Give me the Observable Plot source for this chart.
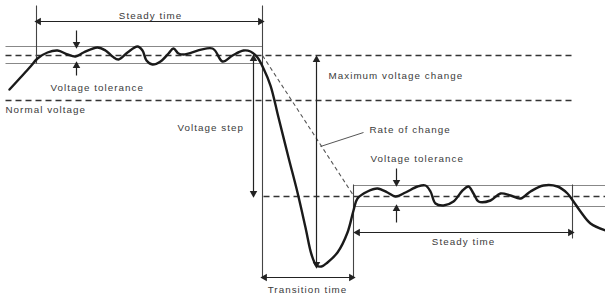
<!DOCTYPE html>
<html>
<head>
<meta charset="utf-8">
<script src="https://cdn.jsdelivr.net/npm/d3@7"></script>
<script src="https://cdn.jsdelivr.net/npm/@observablehq/plot@0.6"></script>
<style>
html,body{margin:0;padding:0;background:#fff;}
#chart svg{display:block;}
#chart svg text{letter-spacing:1.05px;}
</style>
</head>
<body>
<div id="chart"></div>
<script>
// Waveform (time, voltage) in diagram units
const waveT = [9,20,30,37,47,57,67,75,83,97,105,112,118,127,137,142,146,152,160,168,173,178,183,212,222,232,243,250,257,263,270,278,288,297,305,311,316,321,327,337,347,353,357,367,377,387,395,405,417,425,430,435,443,453,462,468,473,478,490,500,510,520,530,543,557,567,573,580,590,605];
const waveV = [89,77,66,58,52,50,54,56,52,47,50,56,59,52,46,50,60,64,61,53,48,53,54,48,61,55,50,51,57,68,85,117,157,192,227,254,265,266,262,252,232,210,198,191,188,192,196,192,186,185,191,203,205,201,190,186,193,201,200,193,195,198,191,185,186,193,201,211,223,230];

// Horizontal reference levels
const levelNames = ["initial", "normal", "final"];
const levelV = [55, 100, 196];
const levelT1 = [5, 5, 263];
const levelT2 = [572, 572, 605];

// Tolerance bands (top, bottom, start, end)
const bandTop = [46, 185];
const bandBottom = [63, 206];
const bandStart = [5, 353];
const bandEnd = [262, 605];

// Time markers (vertical lines)
const markT = [36, 262, 353, 572];
const markV1 = [5, 5, 184, 184];
const markV2 = [63, 277, 277, 238];

// Double-headed dimension arrows
const dimNames = ["Steady time", "Steady time 2", "Transition time", "Voltage step", "Maximum voltage change"];
const dimX1 = [36, 355, 262, 253, 316];
const dimY1 = [21, 232, 277, 56, 57];
const dimX2 = [262, 572, 353, 253, 316];
const dimY2 = [21, 232, 277, 195, 266];

// Single tolerance arrows (from -> to)
const tolX1 = [76, 76, 396, 396];
const tolY1 = [30, 75, 168, 222];
const tolX2 = [76, 76, 396, 396];
const tolY2 = [46, 63, 184, 206];

// Rate of change line and pointer
const rateT = [262, 353];
const rateV = [55, 195];
const pointerT = [320, 363];
const pointerV = [146, 132];

// Labels
const labels = ["Steady time", "Voltage tolerance", "Normal voltage", "Voltage step", "Maximum voltage change", "Rate of change", "Voltage tolerance", "Steady time", "Transition time"];
const labelT = [150, 50, 5, 177, 328, 369, 370, 463, 307];
const labelV = [15, 87, 109, 127, 75, 129, 158, 241, 289];
const labelAnchor = ["middle", "start", "start", "start", "start", "start", "start", "middle", "middle"];

// ---- build tables ----
const wave = waveT.map((t, i) => ({t, v: waveV[i]}));
const levels = levelV.map((v, i) => ({v, t1: levelT1[i], t2: levelT2[i]}));
const bands = [];
bandTop.forEach((v, i) => bands.push({v, t1: bandStart[i], t2: bandEnd[i]}));
bandBottom.forEach((v, i) => bands.push({v, t1: bandStart[i], t2: bandEnd[i]}));
const marks = markT.map((t, i) => ({t, v1: markV1[i], v2: markV2[i]}));
const dims = dimX1.map((x, i) => ({x1: x, y1: dimY1[i], x2: dimX2[i], y2: dimY2[i]}));
const tols = tolX1.map((x, i) => ({x1: x, y1: tolY1[i], x2: tolX2[i], y2: tolY2[i]}));
const heads = [];
function addHead(xFrom, yFrom, xTo, yTo) {
  const dx = xTo - xFrom, dy = yTo - yFrom, L = Math.hypot(dx, dy);
  const ux = dx / L, uy = dy / L;
  const ang = Math.atan2(ux, -uy) * 180 / Math.PI;
  heads.push({x: xTo - ux * 2.2, y: yTo - uy * 2.2, rot: ang});
}
dims.forEach(d => { addHead(d.x1, d.y1, d.x2, d.y2); addHead(d.x2, d.y2, d.x1, d.y1); });
tols.forEach(d => addHead(d.x1, d.y1, d.x2, d.y2));
const rate = [{x1: rateT[0], y1: rateV[0], x2: rateT[1], y2: rateV[1]}];
const pointer = [{x1: pointerT[0], y1: pointerV[0], x2: pointerT[1], y2: pointerV[1]}];
const texts = labels.map((s, i) => ({s, x: labelT[i], y: labelV[i], a: labelAnchor[i]}));
const textsStart = texts.filter(d => d.a === "start");
const textsMiddle = texts.filter(d => d.a === "middle");

const ink = "#222";
const chart = Plot.plot({
  width: 605,
  height: 296,
  margin: 0,
  x: {domain: [0, 605], range: [0, 605], axis: null},
  y: {domain: [0, 296], range: [0, 296], axis: null},
  style: {fontFamily: "'Liberation Sans', Arial, sans-serif", background: "#fff"},
  marks: [
    Plot.link(bands, {x1: "t1", x2: "t2", y1: "v", y2: "v", stroke: "#888", strokeWidth: 1.2}),
    Plot.link(levels, {x1: "t1", x2: "t2", y1: "v", y2: "v", stroke: "#333", strokeWidth: 1.6, strokeDasharray: "6,4"}),
    Plot.link(marks, {x1: "t", x2: "t", y1: "v1", y2: "v2", stroke: "#444", strokeWidth: 1.1}),
    Plot.link(rate, {x1: "x1", y1: "y1", x2: "x2", y2: "y2", stroke: "#555", strokeWidth: 1.1, strokeDasharray: "4,3"}),
    Plot.link(pointer, {x1: "x1", y1: "y1", x2: "x2", y2: "y2", stroke: "#555", strokeWidth: 1}),
    Plot.link(dims, {x1: "x1", y1: "y1", x2: "x2", y2: "y2", stroke: ink, strokeWidth: 1.2}),
    Plot.link(tols, {x1: "x1", y1: "y1", x2: "x2", y2: "y2", stroke: ink, strokeWidth: 1.2}),
    Plot.dot(heads, {x: "x", y: "y", rotate: "rot", symbol: "triangle", r: 2.8, fill: ink, stroke: "none"}),
    Plot.line(wave, {x: "t", y: "v", curve: "catmull-rom", stroke: "#1a1a1a", strokeWidth: 2.4}),
    Plot.text(textsStart, {x: "x", y: "y", text: "s", textAnchor: "start", fontSize: 9.8, fill: "#3a3a3a"}),
    Plot.text(textsMiddle, {x: "x", y: "y", text: "s", textAnchor: "middle", fontSize: 9.8, fill: "#3a3a3a"})
  ]
});
document.getElementById("chart").appendChild(chart);
</script>
</body>
</html>
